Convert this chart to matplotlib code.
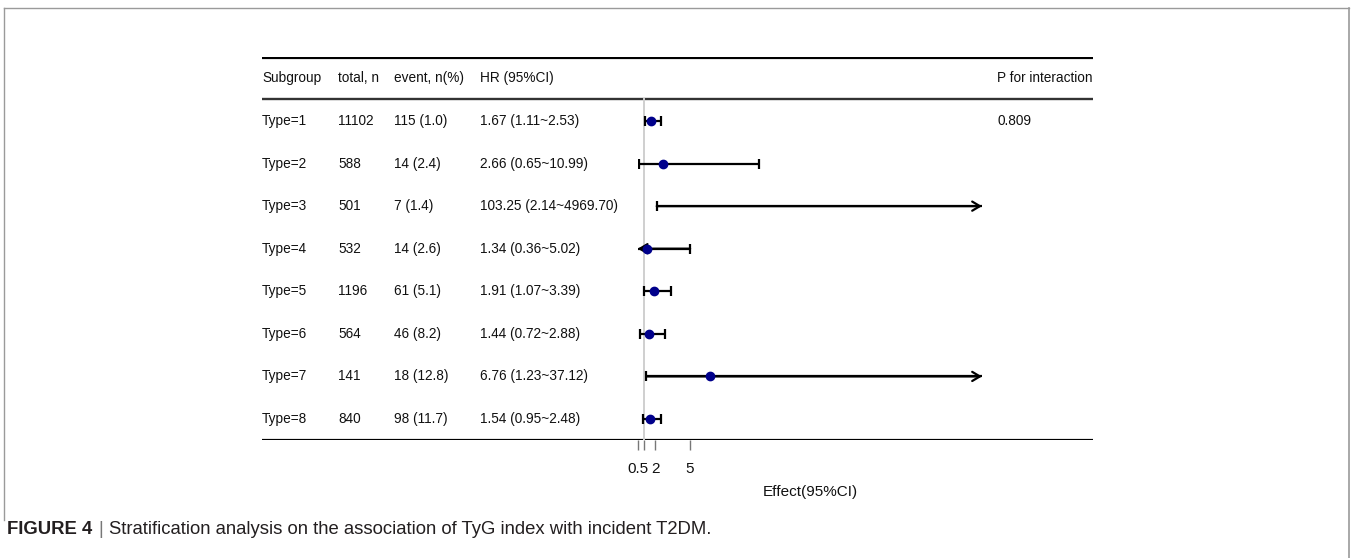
import numpy as np
import matplotlib
matplotlib.use("Agg")
from matplotlib import pyplot as plt
from matplotlib.lines import Line2D

# data
subgroups = ['Type=1', 'Type=2', 'Type=3', 'Type=4', 'Type=5', 'Type=6', 'Type=7', 'Type=8']
total_n = [11102, 588, 501, 532, 1196, 564, 141, 840]
events = [115, 14, 7, 14, 61, 46, 18, 98]
event_pct = [1.0, 2.4, 1.4, 2.6, 5.1, 8.2, 12.8, 11.7]
hr = [1.67, 2.66, 103.25, 1.34, 1.91, 1.44, 6.76, 1.54]
ci_low = [1.11, 0.65, 2.14, 0.36, 1.07, 0.72, 1.23, 0.95]
ci_high = [2.53, 10.99, 4969.70, 5.02, 3.39, 2.88, 37.12, 2.48]
p_interaction = ['0.809', '', '', '', '', '', '', '']
headers = ['Subgroup', 'total, n', 'event, n(%)', 'HR (95%CI)', 'P for interaction']
x_ticks = [0.5, 1, 2, 5]
x_ticklabels = ['0.5', '', '2', '5']

plt.rcParams['font.family'] = ['Liberation Sans', 'DejaVu Sans']

W, H = 1352, 558
fig = plt.figure(figsize=(W / 100, H / 100), dpi=100)


def fx(px):
    return px / W


def fy(py):
    return 1 - py / H


# table area in pixels
tab_l, tab_r = 262, 1092.7
row0, row_h = 121, 42.57
top = row0 - 1.5 * row_h
bot = row0 + 7.5 * row_h

ax_tab = fig.add_axes([fx(tab_l), fy(bot), fx(tab_r - tab_l), (bot - top) / H])
ax_tab.set_xlim(0, 1)
ax_tab.set_ylim(7.5, -1.5)
ax_tab.axis('off')

# forest column
fp_l, fp_r = 637.7, 982
ax = fig.add_axes([fx(fp_l), fy(bot), fx(fp_r - fp_l), (bot - top) / H], sharey=ax_tab)
ax.set_xlim(0.5, 30.18)
ax.patch.set_alpha(0)
for s in ['top', 'right', 'left', 'bottom']:
    ax.spines[s].set_visible(False)
ax.tick_params(axis='y', left=False, labelleft=False)
ax.set_xticks(x_ticks)
ax.set_xticklabels(x_ticklabels, fontsize=11, color='#111111')
ax.tick_params(axis='x', direction='out', length=7, width=1, color='#777777', pad=9)
ax.set_xlabel('Effect(95%CI)', fontsize=11, color='#111111', labelpad=6)

txt_kw = dict(fontsize=9.8, color='#111111', va='center')
col_px = [262, 338, 394, 480]


def cx(px):
    return (px - tab_l) / (tab_r - tab_l)


# header
for h, px in zip(headers[:4], col_px):
    ax_tab.text(cx(px), -1, h, ha='left', **txt_kw)
ax_tab.text(1.0, -1, headers[4], ha='right', **txt_kw)

# rows
for i in range(len(subgroups)):
    ax_tab.text(cx(col_px[0]), i, subgroups[i], ha='left', **txt_kw)
    ax_tab.text(cx(col_px[1]), i, str(total_n[i]), ha='left', **txt_kw)
    ax_tab.text(cx(col_px[2]), i, '%d (%.1f)' % (events[i], event_pct[i]), ha='left', **txt_kw)
    ax_tab.text(cx(col_px[3]), i, '%.2f (%.2f~%.2f)' % (hr[i], ci_low[i], ci_high[i]), ha='left', **txt_kw)
    ax_tab.text(cx(997), i, p_interaction[i], ha='left', **txt_kw)

# horizontal rules
ax_tab.axhline(-1.515, color='black', lw=2.3)
ax_tab.axhline(-0.52, color='#333333', lw=1.7)
ax_tab.axhline(7.49, color='black', lw=2.3)

# reference line at 1
ax.plot([1, 1], [-0.52, 7.49], color='#cfcfcf', lw=1.4, zorder=1)

arrow_kw = dict(arrowstyle='->,head_length=0.5,head_width=0.3', lw=1.6, color='black',
                shrinkA=0, shrinkB=0, mutation_scale=11)
xmin, xmax = ax.get_xlim()
for i in range(len(subgroups)):
    lo, hi, pt = ci_low[i], ci_high[i], hr[i]
    a = max(lo, xmin)
    b = min(hi, xmax)
    ax.plot([a, b], [i, i], color='black', lw=1.6, zorder=2, solid_capstyle='butt')
    if lo >= xmin:
        ax.plot([lo], [i], marker='|', ms=7.5, mew=1.6, color='black', zorder=3)
    else:
        ax.annotate('', xy=(xmin, i), xytext=(b, i), arrowprops=arrow_kw, zorder=3)
    if hi <= xmax:
        ax.plot([hi], [i], marker='|', ms=7.5, mew=1.6, color='black', zorder=3)
    else:
        ax.annotate('', xy=(xmax, i), xytext=(a, i), arrowprops=arrow_kw, zorder=3)
    if xmin <= pt <= xmax:
        ax.plot([pt], [i], marker='o', ms=6, color='#00008b', zorder=4, clip_on=False)

# frame around the figure
frame_c = '#9a9a9a'
fig.add_artist(Line2D([fx(4), fx(1348.5)], [fy(8.3), fy(8.3)], color=frame_c, lw=1.0))
fig.add_artist(Line2D([fx(4), fx(4)], [fy(8.3), fy(520)], color=frame_c, lw=1.0))
fig.add_artist(Line2D([fx(1348.5), fx(1348.5)], [fy(8.3), fy(558)], color=frame_c, lw=1.2))

# caption
cap_font = ['Liberation Sans Narrow', 'Liberation Sans', 'DejaVu Sans']
cap_y = fy(530)
t1 = fig.text(fx(7), cap_y, 'FIGURE 4', fontsize=13.3, fontweight='bold', family=cap_font,
              color='#231f20', va='center', ha='left')
fig.canvas.draw()
r = fig.canvas.get_renderer()
e1 = t1.get_window_extent(r)
t2 = fig.text((e1.x1 + 6) / W, cap_y, '|', fontsize=13.3, family=cap_font, color='#777777',
              va='center', ha='left')
e2 = t2.get_window_extent(r)
fig.text((e2.x1 + 6) / W, cap_y,
         'Stratification analysis on the association of TyG index with incident T2DM.',
         fontsize=13.3, family=cap_font, color='#231f20', va='center', ha='left')

fig.savefig('out.png', dpi=100)
